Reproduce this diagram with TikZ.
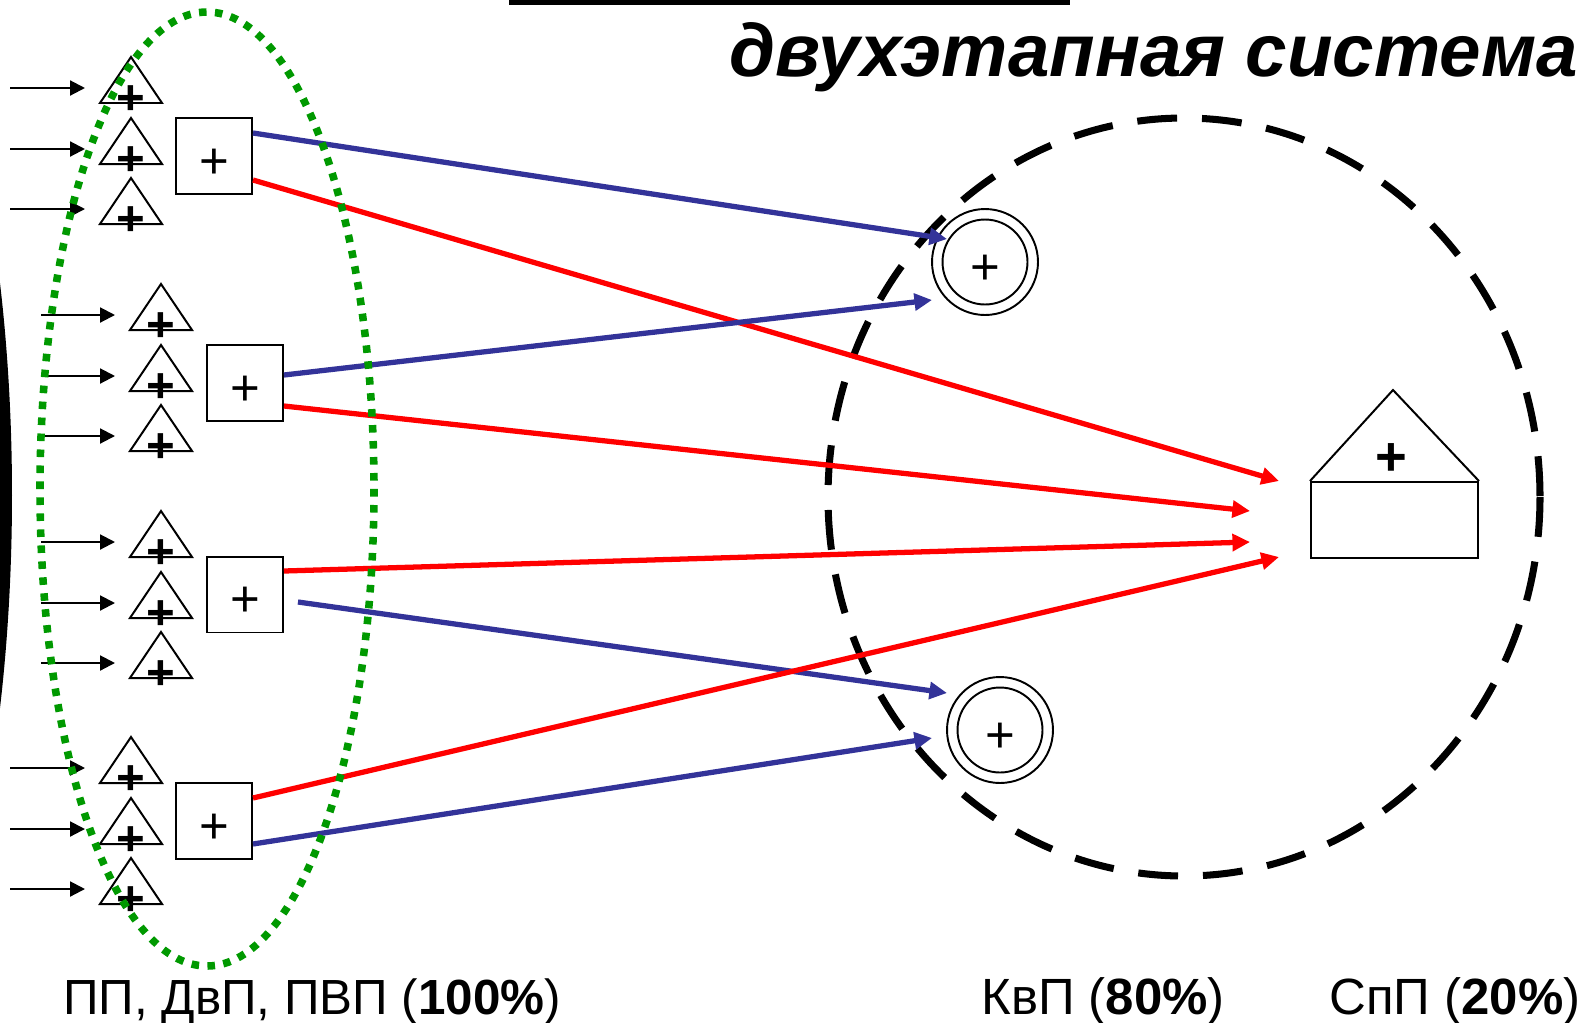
\documentclass[tikz,border=0pt]{standalone}
\usepackage{fontspec}
\setmainfont{Liberation Sans}
\usetikzlibrary{arrows.meta,calc}
\definecolor{gdot}{HTML}{009900}
\definecolor{bl}{HTML}{333399}
\definecolor{rd}{HTML}{FF0000}
\begin{document}
\begin{tikzpicture}[x=0.02cm,y=-0.02cm,
  tri/.style={draw=black,line width=1.13pt,line join=miter},
  tplus/.style={inner sep=0,anchor=base,font=\fontsize{28}{28}\selectfont\bfseries,yshift=-9.9pt},
  bplus/.style={inner sep=0,anchor=base,font=\fontsize{29}{29}\selectfont,yshift=-10.2pt},
  hplus/.style={inner sep=0,anchor=base,font=\fontsize{31}{31}\selectfont\bfseries,yshift=-11pt},
  bx/.style={draw=black,line width=1.13pt,fill=white,inner sep=0,minimum size=1.52cm},
  ring/.style={circle,draw=black,line width=1.1pt,inner sep=0,minimum size=2.12cm},
  ringin/.style={circle,draw=black,line width=1.1pt,inner sep=0,minimum size=1.7cm},
  inarr/.style={draw=black,line width=1.2pt,-{Triangle[length=8.5pt,width=8.5pt]}},
  barr/.style={draw=bl,line width=3pt,-{Triangle[length=10pt,width=9.5pt]}},
  rarr/.style={draw=rd,line width=3pt,-{Triangle[length=10pt,width=9.5pt]}},
  lbl/.style={inner sep=0,anchor=base west,font=\fontsize{29}{29}\selectfont}
]
\useasboundingbox (0,0) rectangle (1585,1022);
\fill[white] (0,0) rectangle (1585,1022);
% left black edge
\fill[black] (0,283) .. controls (16,420) and (16,570) .. (0,708) -- (-20,708) -- (-20,283) -- cycle;
% top rule
\fill[black] (509,0) rectangle (1070,5);
% title
\node[anchor=base east,inner sep=0,font=\fontsize{42.4}{42.4}\selectfont\bfseries\itshape] (title) at (1578,76) {двухэтапная система};
% big dashed circle
\draw[black,line width=4pt,dash pattern=on 22.7pt off 14.2pt] (1184,497) ellipse [x radius=356, y radius=379];
% house
\node[draw=black,line width=1.13pt,inner sep=0,minimum width=3.34cm,minimum height=1.52cm,anchor=north west] (h) at (1310,481) {};
\draw[line width=1.13pt,line join=miter] (h.north west) -- (1393,390) -- (h.north east);
\node[hplus] (hp) at (1391,456) {+};
% double circles
\node[ring] (c1) at (985,262) {};
\node[ringin] (c1i) at (985,262) {};
\node[bplus] (c1p) at (985,267) {+};
\node[ring] (c2) at (1000,730) {};
\node[ringin] (c2i) at (1000,730) {};
\node[bplus] (c2p) at (1000,735) {+};
% boxes
\node[bx] (b1) at (214,156) {};
\node[bplus] (b1p) at (214,161) {+};
\node[bx] (b2) at (245,383) {};
\node[bplus] (b2p) at (245,388) {+};
\node[bx] (b3) at (245,594.5) {};
\node[bplus] (b3p) at (245,599) {+};
\node[bx] (b4) at (214,821) {};
\node[bplus] (b4p) at (214,826) {+};
% triangles and input arrows
\foreach \cx/\ay/\sx/\ex [count=\i] in {131/57/10/85,131/118/10/85,131/178/10/85,
   161/284/41/115,161/345/41/115,161/405/41/115,
   161/511/41/115,161/572/41/115,161/632/41/115,
   131/737/10/85,131/798/10/85,131/858/10/85}{
  \draw[tri] (\cx-31,\ay+46) -- (\cx,\ay) -- (\cx+31,\ay+46) -- cycle;
  \node[tplus] (t\i) at (\cx,\ay+40) {+};
  \coordinate (s\i) at (\sx,\ay+31);
  \coordinate (e\i) at (\ex,\ay+31);
  \draw[inarr] (s\i) -- (e\i);
}
% connectors
\draw[barr] ($(b1.east)+(0,-23)$) -- ($(c1)+(-38,-23)$);
\draw[rarr] ($(b1.east)+(0,24)$) -- ($(h.north west)+(-31,0)$);
\draw[barr] ($(b2.east)+(0,-8)$) -- ($(c1)+(-53,38)$);
\draw[rarr] ($(b2.east)+(0,23)$) -- ($(h.north west)+(-60,30)$);
\draw[rarr] ($(b3.east)+(0,-23.5)$) -- ($(h.north west)+(-60,61)$);
\draw[barr] ($(b3.east)+(14,7.5)$) -- ($(c2)+(-53,-37)$);
\draw[rarr] ($(b4.east)+(0,-23)$) -- ($(h.north west)+(-31,76)$);
\draw[barr] ($(b4.east)+(0,23)$) -- ($(c2)+(-68,8)$);
% green dotted ellipse
\draw[gdot,line width=4.3pt,dash pattern=on 4.3pt off 4.8pt] (207,489) ellipse [x radius=167, y radius=477];
% labels
\node[lbl,font=\fontsize{28.1}{28.1}\selectfont] (l1) at (63,1014) {ПП, ДвП, ПВП (\textbf{100\%})};
\node[lbl] (l2) at (981,1014) {КвП (\textbf{80\%})};
\node[lbl] (l3) at (1329,1014) {СпП (\textbf{20\%})};
\end{tikzpicture}
\end{document}
